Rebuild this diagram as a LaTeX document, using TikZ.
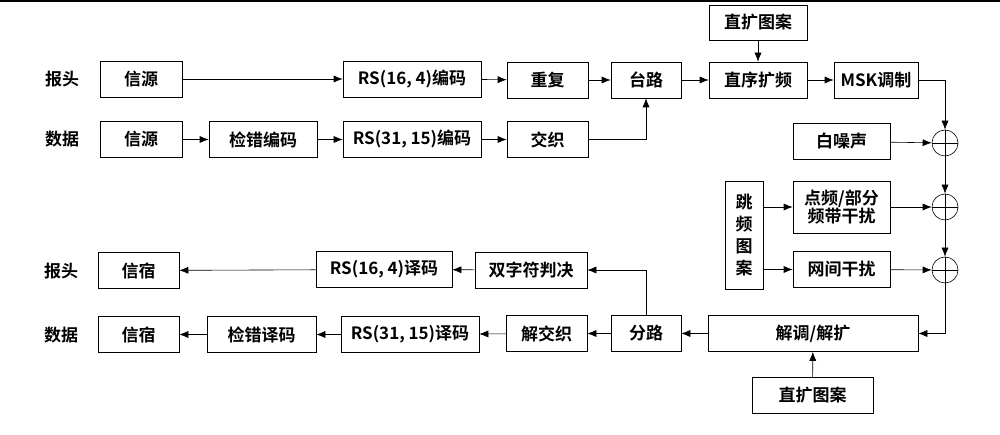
\documentclass[tikz,border=0pt]{standalone}
\usepackage{fontspec}
\setmainfont{Noto Sans CJK SC}[BoldFont={Noto Sans CJK SC Bold}]
\usetikzlibrary{arrows.meta}

\begin{document}
\begin{tikzpicture}[->,>={Latex[length=9pt,width=7pt]},x=1pt,y=-1pt,semithick,
                    font=\fontsize{17}{22}\selectfont\bfseries]
          \tikzstyle{box}=[draw=black,rectangle,minimum height=36pt,inner sep=0pt,align=center]
          \tikzstyle{adder}=[draw=black,circle,minimum size=26pt,inner sep=0pt,
                             path picture={\draw[-] (path picture bounding box.north) -- (path picture bounding box.south)
                                                    (path picture bounding box.west) -- (path picture bounding box.east);}]
          \useasboundingbox (0,0) rectangle (1000,435);
          \draw[-,line width=2.5pt] (0,1.2) -- (1000,1.2);

          % transmitter
          \node (L1) at (62,79)  {报头};
          \node (L2) at (62,139) {数据};
          \node[box,minimum width=82pt]  (src1)  at (141,79)    {信源};
          \node[box,minimum width=138pt] (rs16)  at (412,79)    {RS(16, 4)编码};
          \node[box,minimum width=81pt]  (rep)   at (547.5,80)  {重复};
          \node[box,minimum width=70pt]  (mux)   at (646,80)    {台路};
          \node[box,minimum width=98pt]  (dsss)  at (758,80)    {直序扩频};
          \node[box,minimum width=84pt]  (msk)   at (876,80)    {MSK调制};
          \node[box,minimum width=98pt,minimum height=35pt] (pnT) at (758,22.5) {直扩图案};
          \node[box,minimum width=82pt]  (src2)  at (141,139.5) {信源};
          \node[box,minimum width=108pt] (edc)   at (263,139.5) {检错编码};
          \node[box,minimum width=138pt] (rs31)  at (412,139.5) {RS(31, 15)编码};
          \node[box,minimum width=81pt]  (ilv)   at (547.5,139.5) {交织};

          % channel
          \node[box,minimum width=97pt]  (noise) at (841.5,141.5) {白噪声};
          \node[box,minimum width=38pt,minimum height=108pt] (fh) at (744,235) {跳\\频\\图\\案};
          \node[box,minimum width=97pt,minimum height=52pt] (tone) at (841.5,207) {点频/部分\\[-4pt]频带干扰};
          \node[box,minimum width=97pt]  (net)   at (841.5,269.5) {网间干扰};
          \node[adder] (c1) at (945,143) {};
          \node[adder] (c2) at (945,207) {};
          \node[adder] (c3) at (945,270) {};

          % receiver
          \node[box,minimum width=210pt] (demod) at (813,333.5) {解调/解扩};
          \node[box,minimum width=121pt] (pnB)   at (812.5,395.5) {直扩图案};
          \node[box,minimum width=70pt]  (demux) at (646,333.5) {分路};
          \node[box,minimum width=81pt]  (dilv)  at (546.5,333.5) {解交织};
          \node[box,minimum width=112pt] (dual)  at (531,270) {双字符判决};
          \node[box,minimum width=136pt] (rsd16) at (384,269.5) {RS(16, 4)译码};
          \node[box,minimum width=81pt]  (sink1) at (138.5,270.5) {信宿};
          \node[box,minimum width=138pt] (rsd31) at (410,334.5) {RS(31, 15)译码};
          \node[box,minimum width=109pt] (edd)   at (261.5,334.5) {检错译码};
          \node[box,minimum width=81pt]  (sink2) at (138.5,334.5) {信宿};
          \node (L3) at (61,271) {报头};
          \node (L4) at (61,335) {数据};

          \path (src1) edge (rs16)
                (rs16) edge (rep)
                (rep)  edge (mux)
                (mux)  edge (dsss)
                (pnT)  edge (dsss)
                (dsss) edge (msk)
                (src2) edge (edc)
                (edc)  edge (rs31)
                (rs31) edge (ilv)
                (noise) edge (c1)
                (c1)   edge (c2)
                (c2)   edge (c3)
                (tone) edge (c2)
                (net)  edge (c3)
                (pnB)  edge (demod)
                (demod) edge (demux)
                (demux) edge (dilv)
                (dilv)  edge (rsd31)
                (rsd31) edge (edd)
                (edd)   edge (sink2)
                (dual)  edge (rsd16)
                (rsd16) edge (sink1);
          \draw (ilv.east) -| (mux.south);
          \draw (msk.east) -| (c1.north);
          \draw (fh.east |- tone.west) -- (tone.west);
          \draw (fh.east |- net.west) -- (net.west);
          \draw (c3.south) |- (demod.east);
          \draw (demux.north) |- (dual.east);
        \end{tikzpicture}
\end{document}
